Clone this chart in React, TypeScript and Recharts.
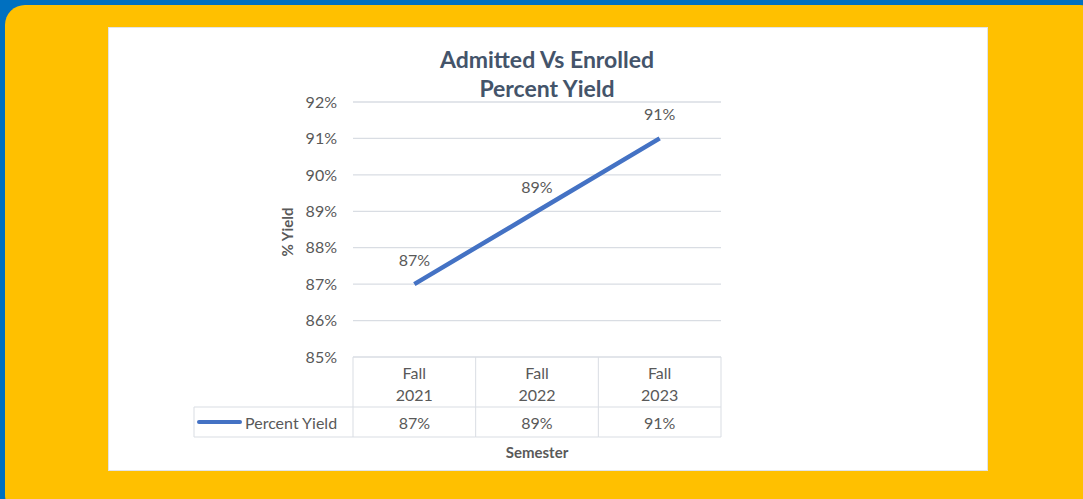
import { LineChart, Line, XAxis, YAxis, CartesianGrid, LabelList } from 'recharts';

const semesters = ['Fall 2021', 'Fall 2022', 'Fall 2023'];
const percentYield = [87, 89, 91];
const yTicks = [85, 86, 87, 88, 89, 90, 91, 92];

const data = semesters.map((s, i) => ({ semester: s, yield: percentYield[i] }));

const FONT = 'Lato, "Open Sans", sans-serif';
const GRID = '#D9DDE3';
const TEXT = '#595959';
const TITLE = '#44546A';
const BLUE = '#4472C4';
const FS = 16;

const PLOT_LEFT = 353;
const PLOT_RIGHT = 721;
const CELL_W = (PLOT_RIGHT - PLOT_LEFT) / semesters.length;

function TableTick(props: any) {
  const { x, y, index, payload } = props;
  const left = x - CELL_W / 2;
  const right = x + CELL_W / 2;
  const [w1, w2] = String(payload.value).split(' ');
  const rowMid = y + 50;
  const rowEnd = y + 80;
  const legendLeft = 194;
  return (
    <g>
      <line x1={left} y1={y} x2={left} y2={rowEnd} stroke={GRID} />
      {index === semesters.length - 1 && <line x1={right} y1={y} x2={right} y2={rowEnd} stroke={GRID} />}
      <line x1={left} y1={rowMid} x2={right} y2={rowMid} stroke={GRID} />
      <line x1={left} y1={rowEnd} x2={right} y2={rowEnd} stroke={GRID} />
      <text x={x} y={y + 15} textAnchor="middle" dominantBaseline="central" fill={TEXT} fontSize={FS} fontFamily={FONT}>{w1}</text>
      <text x={x} y={y + 37} textAnchor="middle" dominantBaseline="central" fill={TEXT} fontSize={FS} fontFamily={FONT}>{w2}</text>
      <text x={x} y={y + 65} textAnchor="middle" dominantBaseline="central" fill={TEXT} fontSize={FS} fontFamily={FONT}>
        {percentYield[index]}%
      </text>
      {index === 0 && (
        <g>
          <line x1={legendLeft} y1={rowMid} x2={left} y2={rowMid} stroke={GRID} />
          <line x1={legendLeft} y1={rowEnd} x2={left} y2={rowEnd} stroke={GRID} />
          <line x1={legendLeft} y1={rowMid} x2={legendLeft} y2={rowEnd} stroke={GRID} />
          <line x1={legendLeft + 5} y1={y + 65} x2={legendLeft + 46} y2={y + 65} stroke={BLUE} strokeWidth={4} strokeLinecap="round" />
          <text x={legendLeft + 51} y={y + 65} dominantBaseline="central" fill={TEXT} fontSize={FS} fontFamily={FONT}>Percent Yield</text>
        </g>
      )}
    </g>
  );
}

export default function App() {
  return (
    <div style={{ position: 'absolute', left: 0, top: 0, width: 1083, height: 499, background: '#0070C0', overflow: 'hidden', fontFamily: FONT }}>
      <div style={{ position: 'absolute', left: 5, top: 5, width: 1095, height: 510, background: '#FFC000', borderRadius: 20 }} />
      <div style={{ position: 'absolute', left: 108, top: 27, width: 878, height: 442, background: '#fff', border: '1px solid #E1E4E8' }} />
      <div style={{ position: 'absolute', left: 347, top: 45, width: 400, textAlign: 'center', color: TITLE, fontWeight: 700, fontSize: 23, lineHeight: '29px' }}>
        Admitted Vs Enrolled
        <br />
        Percent Yield
      </div>
      <div style={{ position: 'absolute', left: 237, top: 221, width: 100, height: 22, lineHeight: '22px', textAlign: 'center', transform: 'rotate(-90deg)', color: TEXT, fontWeight: 700, fontSize: 15 }}>
        % Yield
      </div>
      <div style={{ position: 'absolute', left: 0, top: 0 }}>
        <LineChart width={1083} height={499} data={data} margin={{ top: 102, right: 1083 - PLOT_RIGHT, bottom: 0, left: PLOT_LEFT - 60 }}>
          <CartesianGrid vertical={false} stroke={GRID} strokeWidth={1.3} />
          <XAxis
            dataKey="semester"
            height={142}
            axisLine={false}
            tickLine={false}
            tickSize={0}
            tickMargin={0}
            interval={0}
            padding={{ left: CELL_W / 2, right: CELL_W / 2 }}
            tick={(p: any) => <TableTick {...p} />}
            label={{ value: 'Semester', position: 'insideBottom', offset: 41, fill: TEXT, fontSize: 15, fontWeight: 700, fontFamily: FONT }}
          />
          <YAxis
            width={60}
            domain={[85, 92]}
            ticks={yTicks}
            axisLine={false}
            tickLine={false}
            tickSize={0}
            tickMargin={16}
            tickFormatter={(v: number) => `${v}%`}
            tick={{ fill: TEXT, fontSize: FS, fontFamily: FONT }}
          />
          <Line type="linear" dataKey="yield" stroke={BLUE} strokeWidth={4.5} dot={false} isAnimationActive={false}>
            <LabelList dataKey="yield" position="top" offset={18} formatter={(v: any) => `${v}%`} fill={TEXT} fontSize={FS} fontFamily={FONT} />
          </Line>
        </LineChart>
      </div>
    </div>
  );
}
